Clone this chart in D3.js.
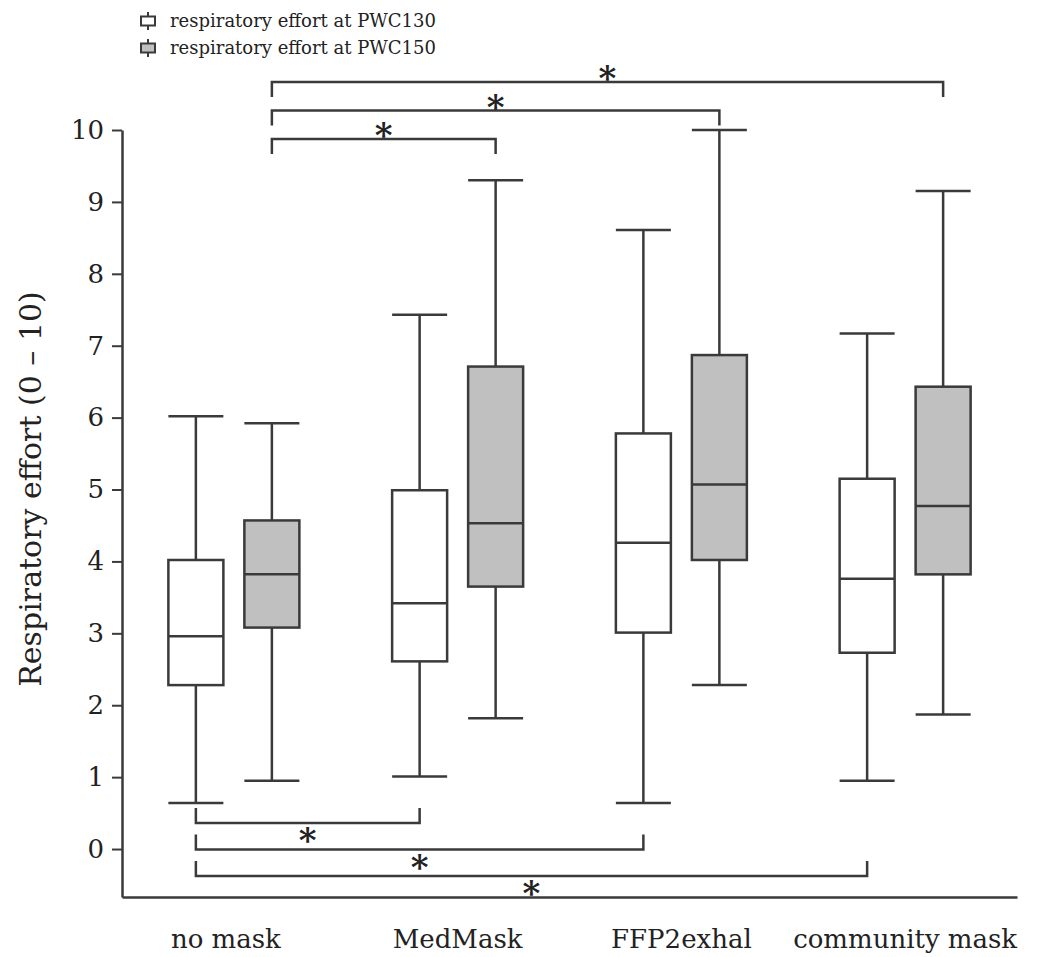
<!DOCTYPE html>
<html>
<head>
<meta charset="utf-8">
<script src="https://cdn.jsdelivr.net/npm/d3@7"></script>
<style>
  body { margin: 0; background: #fff; }
  svg text { font-family: "DejaVu Serif", serif; fill: #222; }
</style>
</head>
<body>
<svg id="chart" width="1040" height="957"></svg>
<script>
// categories and series
const categories = ['no mask', 'MedMask', 'FFP2exhal', 'community mask'];
const seriesNames = ['respiratory effort at PWC130', 'respiratory effort at PWC150'];
const seriesFill = ['#ffffff', '#c0c0c0'];

// box stats per category (PWC130)
const pwc130Min = [0.64, 1.01, 0.64, 0.95];
const pwc130Q1 = [2.28, 2.61, 3.01, 2.73];
const pwc130Median = [2.96, 3.42, 4.26, 3.76];
const pwc130Q3 = [4.02, 4.99, 5.78, 5.15];
const pwc130Max = [6.02, 7.43, 8.61, 7.17];

// box stats per category (PWC150)
const pwc150Min = [0.95, 1.82, 2.28, 1.87];
const pwc150Q1 = [3.08, 3.65, 4.02, 3.82];
const pwc150Median = [3.82, 4.53, 5.07, 4.77];
const pwc150Q3 = [4.57, 6.71, 6.87, 6.43];
const pwc150Max = [5.92, 9.30, 10.0, 9.15];

const yTicks = [0, 1, 2, 3, 4, 5, 6, 7, 8, 9, 10];

// significance comparisons: [series, from category, to category]
const sigAbove = [[1, 'no mask', 'MedMask'], [1, 'no mask', 'FFP2exhal'], [1, 'no mask', 'community mask']];
const sigBelow = [[0, 'no mask', 'MedMask'], [0, 'no mask', 'FFP2exhal'], [0, 'no mask', 'community mask']];

const svg = d3.select('#chart');
const stroke = '#3a3a3a';
const left = 122, right = 1017;

const x = d3.scaleBand().domain(categories).range([left, right]);
const y = d3.scaleLinear().domain([-0.667, 10]).range([897, 130]);
const off = [-38, 38]; // offset of each series within a group
const boxW = 55;

const cx = (cat, s) => x(cat) + x.bandwidth() / 2 + off[s];

// build the box data
const boxes = [];
[[pwc130Min, pwc130Q1, pwc130Median, pwc130Q3, pwc130Max],
 [pwc150Min, pwc150Q1, pwc150Median, pwc150Q3, pwc150Max]].forEach((arr, s) => {
  categories.forEach((c, i) => {
    boxes.push({ cat: c, s, min: arr[0][i], q1: arr[1][i], med: arr[2][i], q3: arr[3][i], max: arr[4][i] });
  });
});

// y axis
const yAxis = svg.append('g')
  .attr('transform', `translate(${left},0)`)
  .call(d3.axisLeft(y).tickValues(yTicks).tickSize(10).tickSizeOuter(0).tickPadding(8));
yAxis.select('.domain').attr('stroke', stroke).attr('stroke-width', 2.5);
yAxis.selectAll('.tick line').attr('stroke', stroke).attr('stroke-width', 2);
yAxis.selectAll('.tick text').attr('font-size', 26).attr('font-family', '"DejaVu Serif", serif').attr('fill', '#222');

// x axis line, no ticks
const xAxis = svg.append('g')
  .attr('transform', `translate(0,${y.range()[0]})`)
  .call(d3.axisBottom(x).tickSize(0).tickSizeOuter(0).tickPadding(33));
xAxis.select('.domain').attr('stroke', stroke).attr('stroke-width', 2.5);
xAxis.selectAll('.tick text').attr('font-size', 26).attr('font-family', '"DejaVu Serif", serif').attr('fill', '#222')
  .attr('dx', (d, i) => i === 0 ? -8 : 0);

// y label
svg.append('text')
  .attr('transform', 'translate(41,489) rotate(-90)')
  .attr('text-anchor', 'middle')
  .attr('font-size', 30)
  .text('Respiratory effort (0 \u2013 10)');

// boxes
const g = svg.append('g').attr('stroke', stroke).attr('stroke-width', 2.5);
const bx = g.selectAll('g.box').data(boxes).join('g').attr('class', 'box');
bx.append('line') // whisker
  .attr('x1', d => cx(d.cat, d.s)).attr('x2', d => cx(d.cat, d.s))
  .attr('y1', d => y(d.min)).attr('y2', d => y(d.max));
bx.append('line') // low cap
  .attr('x1', d => cx(d.cat, d.s) - boxW / 2).attr('x2', d => cx(d.cat, d.s) + boxW / 2)
  .attr('y1', d => y(d.min)).attr('y2', d => y(d.min));
bx.append('line') // high cap
  .attr('x1', d => cx(d.cat, d.s) - boxW / 2).attr('x2', d => cx(d.cat, d.s) + boxW / 2)
  .attr('y1', d => y(d.max)).attr('y2', d => y(d.max));
bx.append('rect')
  .attr('x', d => cx(d.cat, d.s) - boxW / 2).attr('width', boxW)
  .attr('y', d => y(d.q3)).attr('height', d => y(d.q1) - y(d.q3))
  .attr('fill', d => seriesFill[d.s]);
bx.append('line') // median
  .attr('x1', d => cx(d.cat, d.s) - boxW / 2).attr('x2', d => cx(d.cat, d.s) + boxW / 2)
  .attr('y1', d => y(d.med)).attr('y2', d => y(d.med));

// significance brackets
const legH = 15;
function bracket(sig, i, above) {
  const [s, a, b] = sig;
  const x1 = cx(a, s), x2 = cx(b, s);
  const ly = above ? y(10) + 9 - i * 28.5 : y(0) - 26 + i * 26.5;
  const ey = above ? ly + legH : ly - legH;
  svg.append('path')
    .attr('d', `M${x1},${ey}V${ly}H${x2}V${ey}`)
    .attr('fill', 'none').attr('stroke', stroke).attr('stroke-width', 2.5);
  svg.append('text')
    .attr('x', (x1 + x2) / 2)
    .attr('y', above ? ly + 8 : ly + 29)
    .attr('text-anchor', 'middle')
    .attr('font-size', 34)
    .attr('font-weight', 'bold')
    .attr('font-family', '"DejaVu Sans", sans-serif')
    .attr('fill', '#111')
    .text('*');
}
sigAbove.forEach((d, i) => bracket(d, i, true));
sigBelow.forEach((d, i) => bracket(d, i, false));

// legend
const legend = svg.append('g').selectAll('g').data(seriesNames).join('g')
  .attr('transform', (d, i) => `translate(148,${21 + i * 27})`);
legend.append('line').attr('y1', -9).attr('y2', 9).attr('stroke', stroke).attr('stroke-width', 2);
legend.append('rect').attr('x', -7).attr('y', -4.5).attr('width', 14).attr('height', 9)
  .attr('fill', (d, i) => seriesFill[i]).attr('stroke', stroke).attr('stroke-width', 2);
legend.append('text').attr('x', 22).attr('dy', '0.35em').attr('font-size', 18).text(d => d);
</script>
</body>
</html>
